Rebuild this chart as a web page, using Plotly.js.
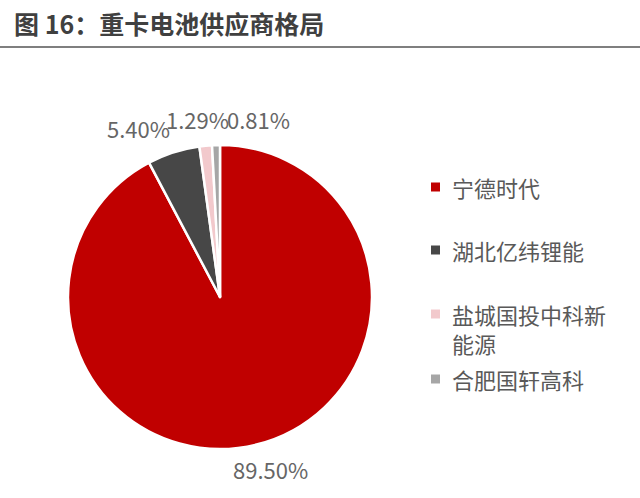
<!DOCTYPE html>
<html>
<head>
<meta charset="utf-8">
<script src="https://cdn.plot.ly/plotly-3.0.1.min.js"></script>
<style>
  html, body { margin: 0; padding: 0; background: #fff; }
  #chart { width: 640px; height: 498px; }
</style>
</head>
<body>
<div id="chart"></div>
<script>
'use strict';

// 重卡电池供应商份额
const suppliers = ['宁德时代', '湖北亿纬锂能', '盐城国投中科新能源', '合肥国轩高科'];
const legendNames = ['宁德时代', '湖北亿纬锂能', '盐城国投中科新<br>能源', '合肥国轩高科'];
const shares = [89.50, 5.40, 1.29, 0.81];
const sliceColors = ['#C00000', '#474747', '#F2C9CC', '#A6A6A6'];

const textFont = 'Noto Sans CJK SC, Noto Sans, sans-serif';
const textGrey = '#666666';
const W = 640, H = 498;

// pixel spots for the value labels, laid out like the original (no leader lines)
const valueLabelPos = [[270, 469], [138, 128], [197, 119], [258, 119]];
const legendY = [187, 250, 314, 379];

const pie = {
	type: 'pie',
	labels: suppliers,
	values: shares,
	sort: false,
	direction: 'clockwise',
	rotation: 0,
	marker: { colors: sliceColors, line: { color: '#ffffff', width: 2.5 } },
	textinfo: 'none',
	showlegend: false,
	hoverinfo: 'label+value',
	domain: { x: [68 / W, 372 / W], y: [1 - 449 / H, 1 - 145 / H] }
};

const shapes = [{
	type: 'line', xref: 'paper', yref: 'paper',
	x0: 0, x1: 1, y0: 1 - 47 / H, y1: 1 - 47 / H,
	line: { color: '#7f7f7f', width: 2 }
}];
const annotations = [{
	text: '<b>图 16：重卡电池供应商格局</b>',
	xref: 'paper', yref: 'paper', x: 12 / W, y: 1 - 23 / H,
	xanchor: 'left', yanchor: 'middle', showarrow: false,
	font: { family: textFont, size: 25, color: '#404040' }
}];

shares.forEach(function(v, i) {
	annotations.push({
		text: v.toFixed(2) + '%',
		xref: 'paper', yref: 'paper',
		x: valueLabelPos[i][0] / W, y: 1 - valueLabelPos[i][1] / H,
		xanchor: 'center', yanchor: 'middle', showarrow: false,
		font: { family: textFont, size: 22, color: textGrey }
	});
});

// legend drawn by hand so item spacing matches the original
suppliers.forEach(function(name, i) {
	const yc = 1 - legendY[i] / H;
	shapes.push({
		type: 'rect', xref: 'paper', yref: 'paper',
		x0: 431 / W, x1: 440 / W, y0: yc - 4.5 / H, y1: yc + 4.5 / H,
		fillcolor: sliceColors[i], line: { width: 0 }
	});
	annotations.push({
		text: legendNames[i],
		xref: 'paper', yref: 'paper', x: 450 / W, y: yc + 18 / H,
		xanchor: 'left', yanchor: 'top', align: 'left', showarrow: false,
		font: { family: textFont, size: 22, color: '#595959' }
	});
});

const layout = {
	width: W,
	height: H,
	margin: { l: 0, r: 0, t: 0, b: 0 },
	paper_bgcolor: '#ffffff',
	showlegend: false,
	shapes: shapes,
	annotations: annotations
};

Plotly.newPlot('chart', [pie], layout, { displayModeBar: false, staticPlot: true });
</script>
</body>
</html>
